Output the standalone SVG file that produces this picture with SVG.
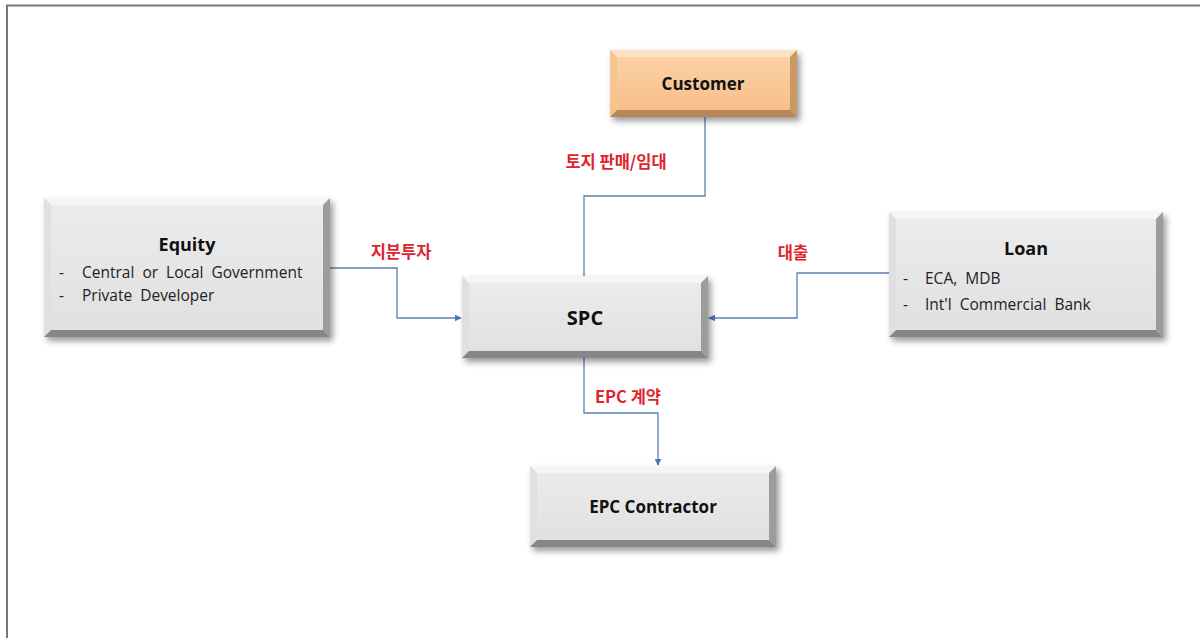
<svg xmlns="http://www.w3.org/2000/svg" width="1200" height="638" viewBox="0 0 1200 638">
<defs>
<style>
.gface{fill:url(#gg)}
.gt{fill:#f5f5f5}.gl{fill:#e0e0e0}.gr{fill:#9c9c9c}.gb{fill:#868686}
.oface{fill:url(#og)}
.ot{fill:#fde2c4}.ol{fill:#f6c48f}.or{fill:#c99864}.ob{fill:#b5875a}
.title{font-family:"Open Sans","Noto Sans","Noto Sans CJK KR",sans-serif;font-weight:bold;fill:#111;text-anchor:middle}
.item{font-family:"Open Sans","Noto Sans","Noto Sans CJK KR",sans-serif;font-size:15.5px;fill:#222;word-spacing:4px}
.lbl{font-family:"Noto Sans CJK KR","Noto Sans",sans-serif;font-weight:bold;font-size:16.5px;fill:#e0242c;text-anchor:middle}
.conn{fill:none;stroke:#5a80b4;stroke-width:1.3}
</style>
<linearGradient id="gg" x1="0" y1="0" x2="0" y2="1"><stop offset="0" stop-color="#ececec"/><stop offset="1" stop-color="#e0e0e0"/></linearGradient>
<linearGradient id="og" x1="0" y1="0" x2="0" y2="1"><stop offset="0" stop-color="#fcd3a8"/><stop offset="1" stop-color="#f8bd86"/></linearGradient>
<filter id="sh" x="-10%" y="-10%" width="125%" height="140%"><feDropShadow dx="3" dy="4" stdDeviation="3" flood-color="#000" flood-opacity="0.4"/></filter>
<marker id="ar" viewBox="0 0 10 10" refX="9" refY="5" markerWidth="7" markerHeight="7" markerUnits="userSpaceOnUse" orient="auto"><path d="M0,0 L10,5 L0,10 Z" fill="#4a76ad"/></marker>
</defs>
<rect width="1200" height="638" fill="#ffffff"/>
<path d="M7,638 V5.5 H1200" fill="none" stroke="#777" stroke-width="2"/>

<g id="connectors">
<path class="conn" d="M705,117 V196 H584 V276"/>
<path class="conn" d="M330,268 H397 V318 H461" marker-end="url(#ar)"/>
<path class="conn" d="M889,273 H797 V318 H709" marker-end="url(#ar)"/>
<path class="conn" d="M584,358 V413 H658 V465" marker-end="url(#ar)"/>
<text class="lbl" x="616" y="168">토지 판매/임대</text>
<text class="lbl" x="401" y="258">지분투자</text>
<text class="lbl" x="793" y="259">대출</text>
<text class="lbl" x="628" y="403">EPC 계약</text>
</g>

<g id="customer">
<g filter="url(#sh)">
<rect class="oface" x="610" y="50" width="187" height="67"/>
<polygon class="ot" points="610,50 797,50 790,57 617,57"/>
<polygon class="ol" points="610,50 617,57 617,110 610,117"/>
<polygon class="or" points="797,50 797,117 790,110 790,57"/>
<polygon class="ob" points="610,117 797,117 790,110 617,110"/>
</g>
<text class="title" x="703" y="90" font-size="17">Customer</text>
</g>

<g id="equity">
<g filter="url(#sh)">
<rect class="gface" x="44" y="198" width="286" height="139"/>
<polygon class="gt" points="44,198 330,198 323,205 51,205"/>
<polygon class="gl" points="44,198 51,205 51,330 44,337"/>
<polygon class="gr" points="330,198 330,337 323,330 323,205"/>
<polygon class="gb" points="44,337 330,337 323,330 51,330"/>
</g>
<text class="title" x="187" y="251" font-size="18">Equity</text>
<text class="item" x="59" y="278">-</text>
<text class="item" x="82" y="278">Central or Local Government</text>
<text class="item" x="59" y="301">-</text>
<text class="item" x="82" y="301">Private Developer</text>
</g>

<g id="spc">
<g filter="url(#sh)">
<rect class="gface" x="462" y="276" width="246" height="82"/>
<polygon class="gt" points="462,276 708,276 701,283 469,283"/>
<polygon class="gl" points="462,276 469,283 469,351 462,358"/>
<polygon class="gr" points="708,276 708,358 701,351 701,283"/>
<polygon class="gb" points="462,358 708,358 701,351 469,351"/>
</g>
<text class="title" x="585" y="325" font-size="20">SPC</text>
</g>

<g id="loan">
<g filter="url(#sh)">
<rect class="gface" x="889" y="212" width="274" height="125"/>
<polygon class="gt" points="889,212 1163,212 1156,219 896,219"/>
<polygon class="gl" points="889,212 896,219 896,330 889,337"/>
<polygon class="gr" points="1163,212 1163,337 1156,330 1156,219"/>
<polygon class="gb" points="889,337 1163,337 1156,330 896,330"/>
</g>
<text class="title" x="1026" y="255" font-size="18">Loan</text>
<text class="item" x="903" y="284">-</text>
<text class="item" x="925" y="284">ECA, MDB</text>
<text class="item" x="903" y="310">-</text>
<text class="item" x="925" y="310">Int'l Commercial Bank</text>
</g>

<g id="epc">
<g filter="url(#sh)">
<rect class="gface" x="530" y="466" width="246" height="81"/>
<polygon class="gt" points="530,466 776,466 769,473 537,473"/>
<polygon class="gl" points="530,466 537,473 537,540 530,547"/>
<polygon class="gr" points="776,466 776,547 769,540 769,473"/>
<polygon class="gb" points="530,547 776,547 769,540 537,540"/>
</g>
<text class="title" x="653" y="513" font-size="17">EPC Contractor</text>
</g>
</svg>
